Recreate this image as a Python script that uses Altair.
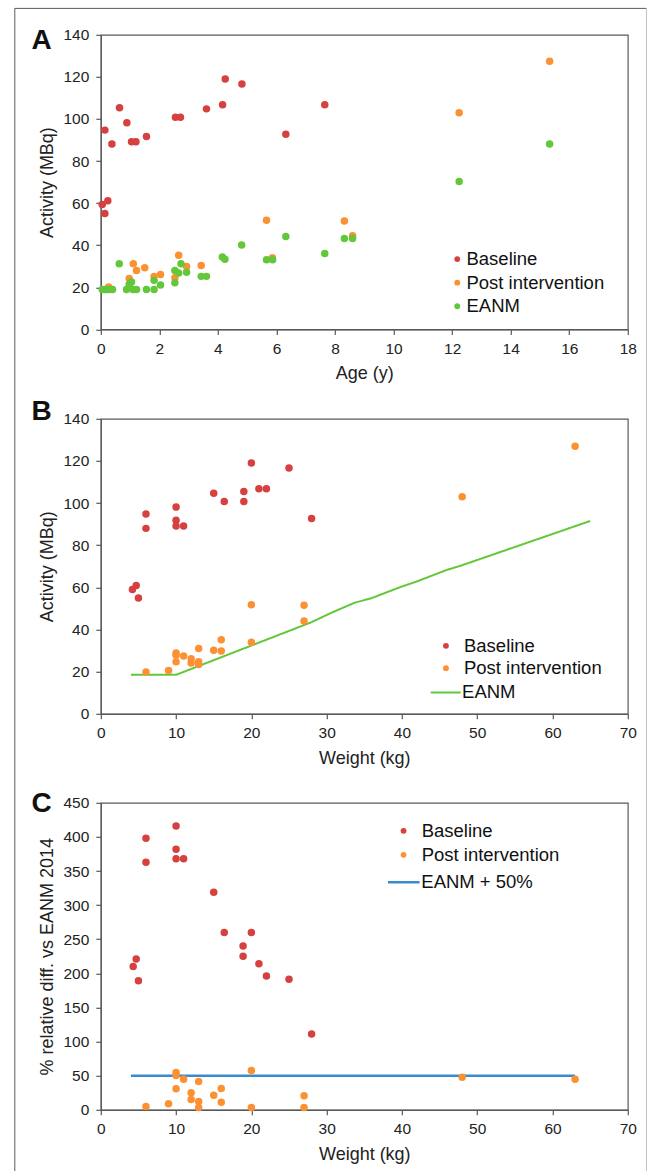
import altair as alt
import pandas as pd

FONT = "Liberation Sans"
RED = "#d6403f"
ORANGE = "#fc9134"
GREEN = "#63c73a"
BLUE = "#388cce"
AXC = "#595959"
TXT = "#222222"
PT = 56
LEGPT = 34
LEGFS = 18.5

# ---------------- Panel A: activity vs age ----------------
age_base = [0.05, 0.14, 0.24, 0.14, 0.38, 0.64, 0.89, 1.05, 1.2, 1.56, 2.55, 2.72, 3.61, 4.16, 4.25, 4.82, 6.32, 7.65]
act_base_a = [59.4, 55.1, 61.1, 94.7, 88.1, 105.3, 98.2, 89.2, 89.2, 91.7, 100.8, 100.8, 104.8, 106.8, 119.0, 116.6, 92.7, 106.8]

age_post = [0.27, 0.97, 1.11, 1.22, 1.5, 1.82, 2.04, 2.53, 2.66, 2.93, 3.43, 5.66, 5.86, 8.32, 8.6, 12.24, 15.33]
act_post_a = [20.1, 24.2, 31.2, 28.0, 29.3, 25.2, 26.1, 24.5, 35.2, 29.9, 30.4, 51.9, 34.0, 51.5, 44.5, 103.0, 127.4]

age_eanm = [0.05, 0.14, 0.2, 0.3, 0.4, 0.63, 0.88, 0.97, 1.05, 1.1, 1.22, 1.56, 1.82, 1.82, 2.04, 2.53, 2.53, 2.66, 2.74,
            2.93, 3.43, 3.61, 4.15, 4.24, 4.81, 5.66, 5.87, 6.32, 7.65, 8.32, 8.6, 12.24, 15.33]
act_eanm_a = [19.0, 19.0, 19.0, 19.0, 19.0, 31.2, 19.0, 21.5, 22.5, 19.0, 19.0, 19.0, 19.0, 23.3, 21.1, 22.2, 28.0, 26.8, 31.2,
              27.2, 25.2, 25.2, 34.4, 33.3, 40.1, 33.1, 33.1, 44.2, 36.1, 43.2, 43.2, 70.3, 88.1]

# ---------------- Panel B: activity vs weight ----------------
w_base = [4.2, 4.7, 5.0, 6, 6, 10, 10, 10, 11, 15, 16.4, 19, 19, 20, 21, 22, 25, 28]
act_base_b = [59.0, 60.9, 54.9, 94.8, 88.0, 98.1, 91.9, 89.1, 89.1, 104.7, 100.8, 105.5, 100.8, 119.0, 106.8, 106.8, 116.6, 92.7]

w_post = [6, 9, 10, 10, 10, 11, 12, 12, 13, 13, 13, 15, 16, 16, 20, 20, 27, 27, 48, 63]
act_post_b = [19.8, 20.6, 28.8, 27.8, 24.7, 27.4, 26.1, 24.1, 31.0, 24.7, 23.4, 30.2, 35.1, 29.8, 33.9, 51.7, 51.5, 44.0, 103.0, 127.0]

w_eanm_line = [4, 10, 28, 30.6, 33.7, 35.9, 39.9, 41.9, 45.9, 47.9, 65]
act_eanm_line = [18.5, 18.5, 43.5, 47.9, 52.7, 54.8, 60.3, 62.7, 68.2, 70.4, 91.5]

# ---------------- Panel C: % relative difference vs EANM 2014 ----------------
w_base_c = [4.3, 4.7, 5.0, 6, 6, 10, 10, 10, 11, 15, 16.4, 18.9, 18.9, 20, 21, 22, 25, 28]
pct_base = [210, 221, 189, 398, 363, 416, 382, 368, 368, 319, 260, 240, 225, 260, 214, 196, 191.5, 111]

w_post_c = [6, 9, 10, 10, 10, 11, 12, 12, 13, 13, 13, 15, 16, 16, 20, 20, 27, 27, 48, 63]
pct_post = [4.8, 8.8, 54.7, 50.3, 30.8, 44.9, 24.9, 15.1, 41.5, 12.2, 3.4, 21.4, 31.2, 11.1, 57.6, 3.4, 20.5, 3.4, 47.8, 44.9]

w_limit = [4, 63]
pct_limit = [50, 50]

# ---------------- helpers ----------------
one = pd.DataFrame({"t": ["x"]})


def xaxis(dom, step, title):
    return alt.X("x:Q", scale=alt.Scale(domain=dom, nice=False, zero=False),
                 axis=alt.Axis(values=list(range(dom[0], dom[1] + 1, step)), title=title,
                               titlePadding=8))


def yaxis(dom, step, title):
    return alt.Y("y:Q", scale=alt.Scale(domain=dom, nice=False, zero=False),
                 axis=alt.Axis(values=list(range(dom[0], dom[1] + 1, step)), title=title,
                               titlePadding=6))


def letter(ch, dx, dy):
    return alt.Chart(pd.DataFrame({"t": [ch]})).mark_text(
        font=FONT, fontSize=28, fontWeight="bold", align="left", baseline="alphabetic", color="#111111"
    ).encode(x=alt.value(dx), y=alt.value(dy), text="t:N")


def color_legend(lx, ly, loff, rowpad):
    return alt.Legend(orient="none", legendX=lx, legendY=ly, title=None, padding=0,
                      labelFont=FONT, labelFontSize=LEGFS, labelColor="#111111",
                      symbolType="circle", symbolSize=LEGPT, symbolStrokeWidth=0,
                      labelOffset=loff, rowPadding=rowpad)


def line_legend(lx, ly, loff, size, color, sw):
    return alt.Legend(orient="none", legendX=lx, legendY=ly, title=None, padding=0,
                      labelFont=FONT, labelFontSize=LEGFS, labelColor="#111111",
                      symbolType="stroke", symbolSize=size, symbolStrokeColor=color,
                      symbolStrokeWidth=sw, labelOffset=loff)


# ---------------- Panel A ----------------
dfA = pd.DataFrame({
    "x": age_base + age_post + age_eanm,
    "y": act_base_a + act_post_a + act_eanm_a,
    "s": ["Baseline"] * len(age_base) + ["Post intervention"] * len(age_post) + ["EANM"] * len(age_eanm),
})
pointsA = alt.Chart(dfA).mark_circle(size=PT, opacity=1).encode(
    x=xaxis([0, 18], 2, "Age (y)"),
    y=yaxis([0, 140], 20, "Activity (MBq)"),
    color=alt.Color("s:N", sort=None,
                    scale=alt.Scale(domain=["Baseline", "Post intervention", "EANM"], range=[RED, ORANGE, GREEN]),
                    legend=color_legend(347.2, 215.0, 0, 4.6)),
)
frame_left = alt.Chart(one).mark_rule(color="#5a5a5a", strokeWidth=1).encode(
    x=alt.value(-86), y=alt.value(-26.4), y2=alt.value(1140))
frame_top = alt.Chart(one).mark_rule(color="#5a5a5a", strokeWidth=1).encode(
    x=alt.value(-86), x2=alt.value(545.7), y=alt.value(-26.4))
frame_right = alt.Chart(one).mark_rule(color="#c4c4c4", strokeWidth=1).encode(
    x=alt.value(545.7), y=alt.value(-26.4), y2=alt.value(1140))

panelA = alt.layer(pointsA, letter("A", -69.3, 14.6), frame_left, frame_top, frame_right).properties(
    width=527, height=294.6)

# ---------------- Panel B ----------------
dfB = pd.DataFrame({
    "x": w_base + w_post,
    "y": act_base_b + act_post_b,
    "s": ["Baseline"] * len(w_base) + ["Post intervention"] * len(w_post),
})
lineB = pd.DataFrame({"x": w_eanm_line, "y": act_eanm_line, "s": ["EANM"] * len(w_eanm_line)})

eanm_line = alt.Chart(lineB).mark_line(color=GREEN, strokeWidth=2).encode(
    x=xaxis([0, 70], 10, "Weight (kg)"),
    y=yaxis([0, 140], 20, "Activity (MBq)"),
    strokeDash=alt.StrokeDash("s:N", scale=alt.Scale(domain=["EANM"], range=[[1, 0]]),
                              legend=line_legend(328.9, 257.7, 0.4, 900, GREEN, 2)),
)
pointsB = alt.Chart(dfB).mark_circle(size=PT, opacity=1).encode(
    x=xaxis([0, 70], 10, "Weight (kg)"),
    y=yaxis([0, 140], 20, "Activity (MBq)"),
    color=alt.Color("s:N", sort=None,
                    scale=alt.Scale(domain=["Baseline", "Post intervention"], range=[RED, ORANGE]),
                    legend=color_legend(335.9, 217.75, 8.8, 3.4)),
)
panelB = alt.layer(eanm_line, pointsB, letter("B", -69.3, 1.3)).properties(width=527, height=295)

# ---------------- Panel C ----------------
dfC = pd.DataFrame({
    "x": w_base_c + w_post_c,
    "y": pct_base + pct_post,
    "s": ["Baseline"] * len(w_base_c) + ["Post intervention"] * len(w_post_c),
})
lineC = pd.DataFrame({"x": w_limit, "y": pct_limit, "s": ["EANM + 50%"] * len(w_limit)})

limit_line = alt.Chart(lineC).mark_line(color=BLUE, strokeWidth=2.4).encode(
    x=xaxis([0, 70], 10, "Weight (kg)"),
    y=yaxis([0, 450], 50, "% relative diff. vs EANM 2014"),
    strokeDash=alt.StrokeDash("s:N", scale=alt.Scale(domain=["EANM + 50%"], range=[[1, 0]]),
                              legend=line_legend(285.5, 61.9, 0, 1000, BLUE, 2.4)),
)
pointsC = alt.Chart(dfC).mark_circle(size=PT, opacity=1).encode(
    x=xaxis([0, 70], 10, "Weight (kg)"),
    y=yaxis([0, 450], 50, "% relative diff. vs EANM 2014"),
    color=alt.Color("s:N", sort=None,
                    scale=alt.Scale(domain=["Baseline", "Post intervention"], range=[RED, ORANGE]),
                    legend=color_legend(293.5, 18.75, 8.9, 5)),
)
panelC = alt.layer(limit_line, pointsC, letter("C", -69.3, 9.4)).properties(width=527, height=307)

chart = alt.vconcat(panelA, panelB, panelC, spacing=89, bounds="flush").resolve_scale(
    x="independent", y="independent", color="independent", strokeDash="independent"
).resolve_legend(color="independent", strokeDash="independent").properties(
    padding={"left": 12.8, "top": 6.8, "right": 0, "bottom": 0},
    background="white",
).configure_axis(
    labelFont=FONT, labelFontSize=15.5, labelColor=TXT,
    titleFont=FONT, titleFontSize=18, titleFontWeight="normal", titleColor=TXT,
    domainColor=AXC, tickColor=AXC, domainWidth=1.2, tickWidth=1.2, tickSize=5,
    labelPadding=7, grid=False, labelFlush=False, labelOverlap=False,
).configure_view(stroke=AXC, strokeWidth=1.2)

chart.save("out.html", embed_options={"renderer": "svg", "actions": False})
